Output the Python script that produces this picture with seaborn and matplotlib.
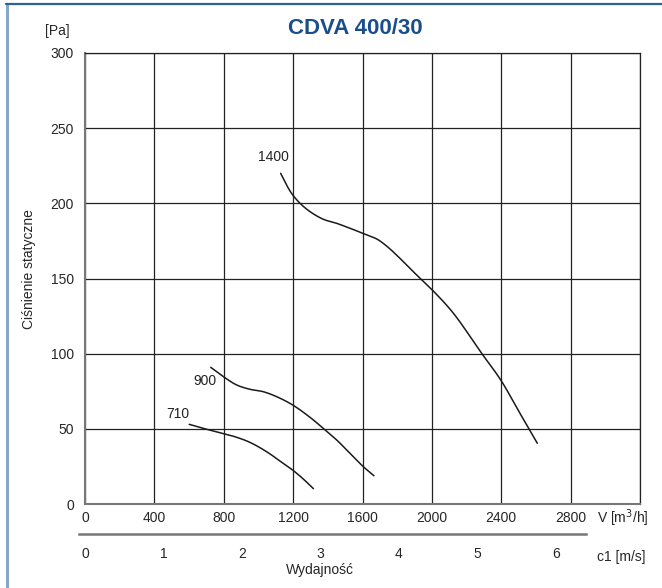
import numpy as np
import matplotlib
matplotlib.use("Agg")
import matplotlib.pyplot as plt
import seaborn as sns
import pandas as pd

# curves: airflow [m3/h] vs static pressure [Pa]
q_1400 = [1128, 1163, 1195, 1240, 1297, 1374, 1451, 1528, 1603, 1682, 1739,
          1816, 1893, 2003, 2124, 2287, 2397, 2508, 2608]
p_1400 = [220, 212, 206, 200, 194.5, 189.4, 186.7, 183.4, 180, 176.3, 171.6,
          163.4, 154.5, 142.3, 126.9, 100.2, 82.5, 60.3, 40.4]
q_900 = [725, 798, 874, 951, 1028, 1105, 1197, 1297, 1374, 1451, 1528, 1605, 1666]
p_900 = [90.9, 84.7, 79.2, 76.3, 74.7, 71.4, 65.9, 57.7, 50.3, 42.6, 33.7, 24.8, 18.8]
q_710 = [601, 682, 794, 874, 951, 1047, 1143, 1197, 1259, 1317]
p_710 = [53, 50.3, 47, 44.4, 41, 34.8, 27, 22.6, 16.6, 10.2]
speeds = ["1400", "900", "710"]

x_ticks = [0, 400, 800, 1200, 1600, 2000, 2400, 2800]
y_ticks = [0, 50, 100, 150, 200, 250, 300]
v_ticks = [0, 1, 2, 3, 4, 5, 6]
m3h_per_ms = 452.4  # duct 400 mm


def smooth_path(xs, ys, n=20, sx=555 / 3200, sy=451 / 300):
    # centripetal Catmull-Rom through the read points (drawing only)
    pts = np.column_stack([np.asarray(xs) * sx, np.asarray(ys) * sy]).astype(float)
    pts = np.vstack([2 * pts[0] - pts[1], pts, 2 * pts[-1] - pts[-2]])
    out = []
    for i in range(1, len(pts) - 2):
        p0, p1, p2, p3 = pts[i - 1], pts[i], pts[i + 1], pts[i + 2]
        t0 = 0.0
        t1 = t0 + np.linalg.norm(p1 - p0) ** 0.5
        t2 = t1 + np.linalg.norm(p2 - p1) ** 0.5
        t3 = t2 + np.linalg.norm(p3 - p2) ** 0.5
        t = np.linspace(t1, t2, n)[:, None]
        a1 = (t1 - t) / (t1 - t0) * p0 + (t - t0) / (t1 - t0) * p1
        a2 = (t2 - t) / (t2 - t1) * p1 + (t - t1) / (t2 - t1) * p2
        a3 = (t3 - t) / (t3 - t2) * p2 + (t - t2) / (t3 - t2) * p3
        b1 = (t2 - t) / (t2 - t0) * a1 + (t - t0) / (t2 - t0) * a2
        b2 = (t3 - t) / (t3 - t1) * a2 + (t - t1) / (t3 - t1) * a3
        c = (t2 - t) / (t2 - t1) * b1 + (t - t1) / (t2 - t1) * b2
        out.append(c if i == 1 else c[1:])
    out = np.vstack(out)
    return out[:, 0] / sx, out[:, 1] / sy


sns.set_style("white")
plt.rcParams["font.family"] = ["Liberation Sans", "DejaVu Sans"]

rows = []
for name, q, p in zip(speeds, [q_1400, q_900, q_710], [p_1400, p_900, p_710]):
    for a, b in zip(q, p):
        rows.append({"speed": name, "q": a, "p": b})
df = pd.DataFrame(rows)

fig = plt.figure(figsize=(6.62, 5.88), dpi=100)
ax = fig.add_axes([85 / 662, 1 - 504 / 588, 555 / 662, 451 / 588])

for name in speeds:
    d = df[df.speed == name]
    sx, sy = smooth_path(d.q.values, d.p.values)
    sns.lineplot(x=sx, y=sy, ax=ax, color="#1a1a1a", lw=1.1, estimator=None, sort=False)

ax.text(1084, 231, "1400", fontsize=10, ha="center", va="center", color="#222")
ax.text(692, 82, "900", fontsize=10, ha="center", va="center", color="#222")
ax.text(536, 60, "710", fontsize=10, ha="center", va="center", color="#222")

ax.set_xlim(0, 3200)
ax.set_ylim(0, 300)
ax.set_xticks(x_ticks + [3200])
ax.set_xticklabels([str(t) for t in x_ticks] + [""])
ax.set_yticks(y_ticks)
ax.grid(True, color="#222222", lw=0.9)
for s in ax.spines.values():
    s.set_color("#222222")
    s.set_linewidth(0.9)
ax.spines["left"].set_color("#777777")
ax.spines["left"].set_linewidth(1.5)
ax.spines["bottom"].set_color("#777777")
ax.spines["bottom"].set_linewidth(1.5)
ax.tick_params(axis="y", direction="out", length=6, color="#333", labelsize=10, pad=2)
ax.tick_params(axis="x", direction="out", length=0, labelsize=10, pad=5)
ax.set_ylabel("Ciśnienie statyczne", fontsize=10)
ax.yaxis.set_label_coords(-0.088, 0.52)
ax.set_xlabel("")
fig.text(597 / 662, 1 - 518 / 588, "V [m$^3$/h]", fontsize=10, ha="left", va="center")

# second scale: duct velocity
ax2 = fig.add_axes([85 / 662, 1 - 534 / 588, 555 / 662, 0.0001])
ax2.set_xlim(0, 3200 / m3h_per_ms)
ax2.set_yticks([])
ax2.set_xticks(v_ticks)
for s in ["left", "right", "top"]:
    ax2.spines[s].set_visible(False)
ax2.spines["bottom"].set_bounds(-35 / m3h_per_ms, 2890 / m3h_per_ms)
ax2.spines["bottom"].set_color("#777777")
ax2.spines["bottom"].set_linewidth(1.8)
ax2.tick_params(axis="x", direction="out", length=5, color="#555", labelsize=10, pad=4)
ax2.patch.set_alpha(0)
fig.text(597 / 662, 1 - 557 / 588, "c1 [m/s]", fontsize=10, ha="left", va="center")
fig.text(320 / 662, 1 - 570 / 588, "Wydajność", fontsize=10, ha="center", va="center")

fig.text(57 / 662, 1 - 31 / 588, "[Pa]", fontsize=10, ha="center", va="center")
fig.text(355 / 662, 1 - 28 / 588, "CDVA 400/30", fontsize=16, fontweight="bold",
         color="#1a4d8c", ha="center", va="center",
         family=["Liberation Sans Narrow", "Liberation Sans", "DejaVu Sans"])

# page frame lines (left and top)
fig.add_artist(plt.Line2D([7 / 662, 7 / 662], [0, 1 - 4 / 588], color="#86a7c7", lw=2.2))
fig.add_artist(plt.Line2D([6 / 662, 1], [1 - 4 / 588, 1 - 4 / 588], color="#2f6199", lw=1.6))

fig.savefig("out.png", dpi=100)
